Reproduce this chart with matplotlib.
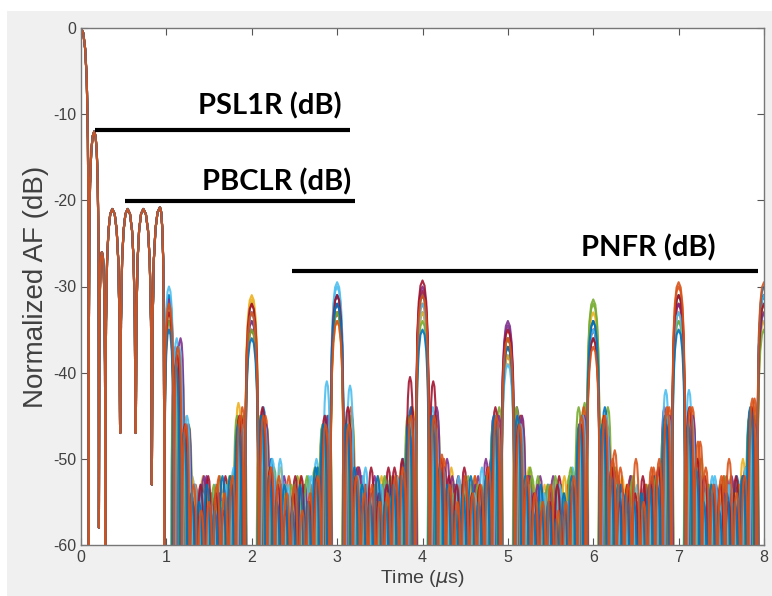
import matplotlib.pyplot as plt
from matplotlib.patches import Rectangle

plt.rcParams['font.family'] = ['Liberation Sans', 'DejaVu Sans']
plt.rcParams['axes.unicode_minus'] = False

# MATLAB default colour order
colors = ['#0072BD', '#D95319', '#EDB120', '#7E2F8E', '#77AC30', '#4DBEEE', '#A2142F']
series_color = [2, 3, 4, 5, 6, 0, 1, 2, 3, 4, 5, 6, 0, 1]

# lobes shared by every code (0 .. 1 us)
common_peak_t = [0.0, 0.155, 0.245, 0.367, 0.546, 0.73, 0.925]
common_peak_db = [0.0, -12.0, -26.0, -21.0, -21.0, -21.0, -20.8]
common_null_t = [-0.09, 0.09, 0.21, 0.285, 0.46, 0.64, 0.83, 0.975]
common_null_db = [-65, -65, -58, -65, -47, -47, -53, -65]

# grating lobes, one row per code
grating_t = [1.03, 2, 3, 4, 5, 6, 7, 8]
grating_db = [
    [-32.0, -31.5, -33.0, -32.0, -35.0, -35.0, -32.0, -33.0],
    [-34.0, -33.0, -31.0, -33.0, -34.5, -34.0, -33.0, -31.0],
    [-33.0, -34.0, -32.0, -31.0, -37.0, -32.0, -31.0, -32.0],
    [-31.0, -32.0, -30.0, -33.0, -36.0, -36.0, -34.0, -33.0],
    [-32.0, -35.0, -33.0, -30.5, -38.0, -35.0, -32.0, -31.0],
    [-31.0, -33.0, -31.0, -31.0, -36.0, -34.0, -31.0, -31.0],
    [-32.0, -32.0, -33.0, -32.0, -37.0, -36.0, -30.0, -32.0],
    [-33.0, -31.0, -34.0, -33.0, -38.0, -33.0, -33.0, -34.0],
    [-31.5, -34.0, -32.0, -30.0, -34.0, -35.0, -32.0, -33.0],
    [-34.0, -35.0, -33.0, -34.0, -36.0, -31.5, -34.0, -35.0],
    [-30.0, -33.0, -29.5, -32.0, -39.0, -35.0, -33.0, -31.0],
    [-33.0, -32.0, -31.0, -29.3, -35.0, -36.0, -31.0, -32.0],
    [-35.0, -36.0, -32.0, -35.0, -37.0, -34.0, -35.0, -30.0],
    [-32.0, -33.0, -34.0, -31.0, -36.0, -37.0, -29.5, -29.5],
]

# sidelobe / floor lobes between grating lobes (offset from the integer time)
lobe_offset = [0.136, 0.227, 0.318, 0.409, 0.5, 0.591, 0.682, 0.773, 0.864]
floor_shift = [0.02, -0.03, 0.035, -0.015, 0.01, 0.0, 0.025, -0.02, 0.03,
               -0.035, 0.015, -0.01, -0.025, 0.0]
sidelobe_db = [
    [[-38, -46, -54, -52, -56, -55, -53, -54, -46],
     [-46, -52, -51, -55, -54, -53, -56, -52, -45],
     [-45, -51, -55, -53, -52, -56, -54, -52, -44],
     [-46, -53, -51, -54, -55, -52, -56, -51, -46],
     [-45, -51, -55, -53, -56, -54, -53, -52, -46],
     [-46, -53, -52, -56, -54, -53, -55, -52, -45],
     [-45, -52, -54, -55, -53, -52, -55, -51, -44]],
    [[-37, -47, -53, -55, -52, -56, -54, -53, -46],
     [-45, -52, -54, -52, -56, -53, -55, -52, -46],
     [-46, -51, -52, -54, -55, -53, -52, -52, -45],
     [-46, -51, -50, -53, -56, -54, -52, -50, -45],
     [-44, -52, -54, -52, -53, -55, -56, -53, -46],
     [-46, -52, -52, -55, -53, -56, -54, -52, -44],
     [-45, -51, -53, -56, -54, -52, -55, -52, -45]],
    [[-39, -46, -55, -53, -54, -52, -56, -52, -45],
     [-46, -51, -53, -56, -52, -55, -53, -51, -45],
     [-45, -52, -56, -53, -55, -52, -54, -52, -46],
     [-45, -52, -53, -55, -52, -56, -53, -52, -44],
     [-46, -51, -52, -54, -56, -53, -52, -51, -43.5],
     [-44, -51, -54, -52, -55, -53, -56, -52, -45],
     [-46, -50, -53, -55, -52, -54, -53, -52, -45]],
    [[-36, -45, -52, -54, -56, -53, -55, -52, -46],
     [-45, -51, -55, -53, -54, -56, -52, -50, -46],
     [-46, -51, -52, -55, -53, -52, -55, -52, -45],
     [-44, -52, -55, -53, -56, -53, -54, -52, -45],
     [-45, -53, -56, -54, -53, -55, -54, -51, -46],
     [-46, -52, -53, -56, -54, -55, -53, -52, -42],
     [-42, -51, -54, -52, -56, -53, -55, -52, -46]],
    [[-38, -47, -53, -56, -55, -54, -52, -53, -45],
     [-46, -52, -56, -54, -52, -55, -54, -52, -46],
     [-46, -51, -53, -56, -54, -51, -53, -51, -44],
     [-45, -51, -54, -52, -55, -53, -54, -52, -46],
     [-45, -52, -55, -56, -54, -52, -55, -53, -45],
     [-45, -51, -53, -54, -56, -53, -52, -52, -45],
     [-46, -52, -55, -53, -54, -56, -53, -51, -45]],
    [[-37, -46, -55, -53, -56, -54, -57, -52, -46],
     [-44, -50, -54, -56, -53, -57, -55, -51, -45],
     [-46, -52, -56, -54, -55, -53, -56, -50, -44],
     [-45, -53, -54, -57, -52, -55, -54, -52, -47],
     [-47, -52, -55, -56, -54, -57, -55, -53, -45],
     [-44, -51, -53, -55, -57, -54, -56, -51, -46],
     [-46, -50, -56, -54, -53, -55, -52, -52, -45]],
    [[-38, -47, -53, -56, -54, -52, -55, -53, -44],
     [-45, -53, -55, -52, -56, -54, -53, -52, -47],
     [-44, -51, -53, -55, -54, -56, -52, -53, -45],
     [-46, -50, -55, -53, -56, -52, -55, -51, -46],
     [-45, -53, -56, -54, -55, -56, -53, -52, -44],
     [-46, -49, -54, -52, -55, -53, -51, -50, -44],
     [-44, -48, -53, -55, -52, -54, -53, -51, -43]],
    [[-39, -45, -52, -55, -53, -57, -54, -52, -43.5],
     [-47, -52, -54, -53, -55, -52, -56, -53, -46],
     [-45, -53, -55, -57, -52, -54, -55, -51, -46],
     [-47, -52, -53, -55, -54, -53, -56, -52, -45],
     [-46, -54, -53, -57, -55, -54, -52, -52, -46],
     [-45, -52, -55, -53, -54, -56, -53, -52, -45],
     [-47, -51, -54, -56, -53, -55, -54, -50, -44]],
    [[-36, -46, -56, -52, -55, -54, -53, -51, -47],
     [-46, -52, -53, -55, -57, -53, -54, -52, -45],
     [-47, -51, -54, -52, -53, -55, -53, -52, -47],
     [-44, -51, -52, -54, -56, -53, -55, -50, -45],
     [-45, -52, -53, -56, -52, -54, -55, -53, -45],
     [-47, -53, -54, -52, -56, -55, -52, -51, -45],
     [-45, -52, -55, -53, -54, -52, -55, -52, -46]],
    [[-40, -47, -54, -56, -54, -53, -55, -52, -45],
     [-45, -51, -56, -54, -53, -55, -52, -51, -46],
     [-46, -52, -53, -56, -55, -52, -54, -53, -45],
     [-46, -52, -56, -54, -53, -56, -53, -52, -46],
     [-44, -52, -52, -55, -53, -52, -54, -51, -44],
     [-46, -51, -53, -56, -52, -54, -55, -52, -46],
     [-47, -52, -54, -53, -55, -56, -54, -53, -45]],
    [[-37, -45, -53, -54, -55, -56, -53, -51, -46],
     [-46, -50, -50, -53, -55, -54, -52, -53, -41],
     [-41.5, -52, -51, -54, -53, -56, -52, -51, -45],
     [-46, -51, -54, -52, -55, -54, -51, -52, -46],
     [-46, -53, -55, -54, -56, -53, -55, -52, -45],
     [-45, -52, -54, -55, -53, -56, -54, -52, -45],
     [-45, -51, -53, -52, -55, -53, -54, -51, -46]],
    [[-38, -46, -55, -53, -52, -54, -56, -53, -45],
     [-44, -51, -53, -56, -54, -52, -55, -52, -45],
     [-44, -52, -55, -51, -54, -53, -51, -50, -40.5],
     [-41, -50, -52, -53, -51, -54, -53, -51, -44],
     [-46, -53, -54, -56, -55, -53, -56, -53, -46],
     [-45, -51, -55, -53, -54, -52, -53, -51, -46],
     [-44, -50, -52, -54, -53, -55, -52, -52, -44]],
    [[-39, -47, -54, -55, -53, -56, -52, -52, -46],
     [-45, -52, -55, -53, -56, -53, -55, -51, -46],
     [-46, -51, -53, -55, -52, -55, -53, -52, -46],
     [-45, -51, -53, -56, -54, -52, -55, -52, -45],
     [-45, -52, -56, -53, -55, -57, -54, -52, -46],
     [-46, -52, -53, -54, -55, -54, -53, -53, -45],
     [-46, -51, -55, -53, -56, -54, -55, -52, -44]],
    [[-37, -46, -53, -56, -55, -53, -54, -52, -45],
     [-45, -51, -52, -54, -53, -56, -54, -52, -46],
     [-46, -52, -54, -53, -55, -54, -52, -51, -45],
     [-45, -49.5, -53, -55, -52, -54, -53, -51, -45],
     [-46, -52, -54, -55, -53, -56, -55, -52, -45],
     [-45, -50, -51, -53, -50, -55, -51, -50, -44],
     [-44, -48, -51, -53, -52, -50, -54, -52, -43]],
]

# annotation bars
ann_label = ['PSL1R (dB)', 'PBCLR (dB)', 'PNFR (dB)']
ann_x0 = [0.164, 0.515, 2.47]
ann_x1 = [3.15, 3.21, 7.93]
ann_y = [-11.8, -20.1, -28.2]
ann_tx = [2.21, 2.29, 6.65]
ann_ty = [-9.0, -17.9, -25.5]

# shape of one lobe in dB: (fraction of half width, drop from peak)
shape = [(0.3, 0.6), (0.55, 2.5), (0.75, 6.0), (0.9, 13.0), (0.97, 25.0)]


def add_lobe(ts, ys, c, peak, wl, wr, nl=-65, nr=-65):
    ts.append(c - wl)
    ys.append(nl)
    for f, d in reversed(shape):
        ts.append(c - f * wl)
        ys.append(max(peak - d, nl))
    ts.append(c)
    ys.append(peak)
    for f, d in shape:
        ts.append(c + f * wr)
        ys.append(max(peak - d, nr))
    ts.append(c + wr)
    ys.append(nr)


fig = plt.figure(figsize=(7.72, 5.96), dpi=100)
fig.patch.set_facecolor('#f0f0f0')
fig.patches.append(Rectangle((0, 0), 7 / 772, 1, transform=fig.transFigure,
                             facecolor='white', edgecolor='none'))
fig.patches.append(Rectangle((0, 1 - 11 / 596), 1, 11 / 596, transform=fig.transFigure,
                             facecolor='white', edgecolor='none'))
ax = fig.add_axes([81 / 772, 51 / 596, 683 / 772, 517 / 596])
ax.set_facecolor('white')

for s in range(len(grating_db)):
    ts, ys = [], []
    for i in range(len(common_peak_t)):
        c = common_peak_t[i]
        add_lobe(ts, ys, c, common_peak_db[i], c - common_null_t[i],
                 common_null_t[i + 1] - c, common_null_db[i], common_null_db[i + 1])
    for k in range(len(grating_t)):
        wl = 0.055 if k == 0 else 0.08
        wr = 0.06 if k == 0 else 0.08
        add_lobe(ts, ys, grating_t[k], grating_db[s][k], wl, wr)
        if k < len(sidelobe_db[s]):
            for j, off in enumerate(lobe_offset):
                add_lobe(ts, ys, k + 1 + off + floor_shift[s], sidelobe_db[s][k][j],
                         0.0455, 0.0455)
    ax.plot(ts, ys, color=colors[series_color[s]], lw=1.5, alpha=0.9)

for i in range(len(ann_label)):
    ax.plot([ann_x0[i], ann_x1[i]], [ann_y[i], ann_y[i]], color='black', lw=3,
            solid_capstyle='butt', zorder=5)
    ax.text(ann_tx[i], ann_ty[i], ann_label[i], ha='center', va='center',
            fontsize=21, fontweight='bold', family=['Lato', 'DejaVu Sans'], zorder=6)

ax.set_xlim(0, 8)
ax.set_ylim(-60, 0)
ax.set_xticks(range(0, 9))
ax.set_yticks(range(-60, 1, 10))
ax.tick_params(direction='in', top=True, right=True, length=5, width=0.8,
               color='#555555', labelcolor='#404040', labelsize=11.5)
for sp in ax.spines.values():
    sp.set_color('#777777')
    sp.set_linewidth(1.0)
ax.set_xlabel('Time ($\\mu$s)', fontsize=14, color='#404040', labelpad=2)
ax.set_ylabel('Normalized AF (dB)', fontsize=20, color='#404040', labelpad=3)

fig.savefig('out.png', dpi=100, facecolor=fig.get_facecolor())
